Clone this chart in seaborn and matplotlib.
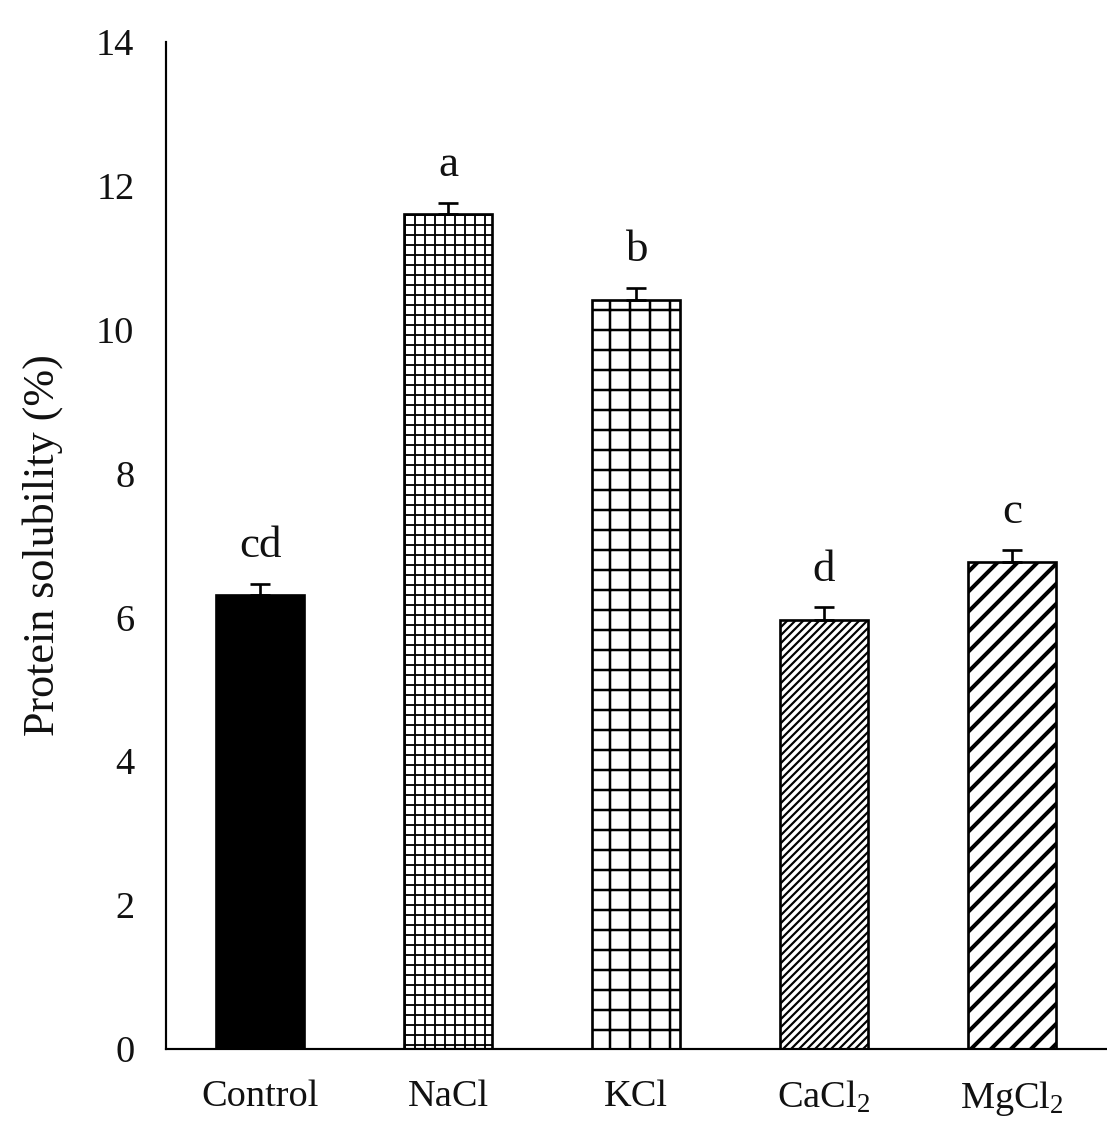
import matplotlib
matplotlib.use('Agg')
import matplotlib.pyplot as plt
import seaborn as sns
import numpy as np

# values
salts = ['Control', 'NaCl', 'KCl', r'CaCl$_2$', r'MgCl$_2$']
solubility = [6.31, 11.60, 10.41, 5.96, 6.77]
sd = [0.16, 0.16, 0.17, 0.18, 0.17]
letters = ['cd', 'a', 'b', 'd', 'c']
hatches = ['', '++', '+', '/////', '//']
fills = ['black', 'white', 'white', 'white', 'white']
hatch_lw = [1.0, 1.1, 1.5, 1.3, 2.4]

sns.set_style('white')
plt.rcParams['font.family'] = ['Liberation Serif', 'DejaVu Serif']
plt.rcParams['mathtext.fontset'] = 'custom'
plt.rcParams['mathtext.rm'] = 'Liberation Serif'
plt.rcParams['mathtext.default'] = 'regular'
plt.rcParams['hatch.linewidth'] = 1.2

fig = plt.figure(figsize=(1107 / 120, 1128 / 120), dpi=120)
ax = fig.add_axes([0.15, 0.07, 0.849, 0.893])

sns.barplot(x=salts, y=solubility, color='white', saturation=1,
            edgecolor='black', linewidth=1.6, width=0.47, errorbar=None, ax=ax)

for i, p in enumerate(ax.patches):
    p.set_facecolor(fills[i])
    p.set_hatch(hatches[i])
    if hasattr(p, 'set_hatch_linewidth'):
        p.set_hatch_linewidth(hatch_lw[i])

xs = np.arange(len(salts))
ax.errorbar(xs, solubility, yerr=[np.zeros(len(sd)), sd], fmt='none',
            ecolor='black', elinewidth=1.6, capsize=6, capthick=1.6)

for x, v, e, lab in zip(xs, solubility, sd, letters):
    ax.annotate(lab, (x, v + e), xytext=(0, 16), textcoords='offset points',
                ha='center', va='baseline', fontsize=27, color='#111111')

ax.set_ylim(0, 14)
ax.set_yticks(range(0, 15, 2))
ax.set_xlim(-0.5, 4.5)
ax.set_ylabel('Protein solubility (%)', fontsize=26.5, labelpad=20,
              color='#111111')
ax.tick_params(axis='both', length=0, labelsize=23, labelcolor='#111111')
ax.tick_params(axis='y', pad=19)
ax.tick_params(axis='x', pad=18)
sns.despine(ax=ax)
for s in ['left', 'bottom']:
    ax.spines[s].set_linewidth(1.3)
    ax.spines[s].set_color('black')

fig.savefig('out.png', dpi=120)
